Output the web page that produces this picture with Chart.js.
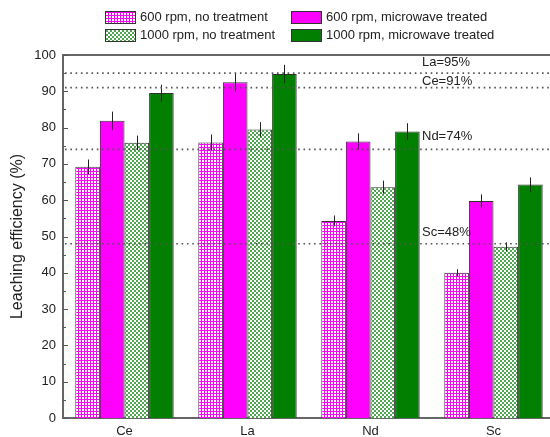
<!DOCTYPE html>
<html>
<head>
<meta charset="utf-8">
<script src="https://cdn.jsdelivr.net/npm/chart.js@4.4.1/dist/chart.umd.min.js"></script>
<style>
  html, body { margin: 0; padding: 0; overflow: hidden; background: #fff; }
  #wrap { width: 557px; height: 437px; }
</style>
</head>
<body>
<div id="wrap"><canvas id="chart"></canvas></div>
<script>
// Data
const elements = ["Ce", "La", "Nd", "Sc"];
const seriesNames = [
  "600 rpm, no treatment",
  "600 rpm, microwave treated",
  "1000 rpm, no treatment",
  "1000 rpm, microwave treated",
];
const rpm600Plain = [69.2, 75.9, 54.3, 40.0];
const rpm600Microwave = [81.9, 92.5, 76.2, 59.8];
const rpm1000Plain = [75.8, 79.5, 63.6, 47.2];
const rpm1000Microwave = [89.5, 94.8, 78.9, 64.3];
const err600Plain = [2.0, 2.2, 1.5, 1.0];
const err600Microwave = [2.5, 2.5, 2.2, 1.8];
const err1000Plain = [2.0, 2.0, 1.8, 1.2];
const err1000Microwave = [2.3, 2.5, 2.3, 2.0];
const refValues = [95, 91, 74, 48];
const refLabels = ["La=95%", "Ce=91%", "Nd=74%", "Sc=48%"];
const yTicks = [0, 10, 20, 30, 40, 50, 60, 70, 80, 90, 100];

const FONT = "'Liberation Sans', Arial, sans-serif";

// fill patterns
function makePattern(size, draw) {
  const c = document.createElement("canvas");
  c.width = size;
  c.height = size;
  const g = c.getContext("2d");
  draw(g);
  return g.createPattern(c, "repeat");
}
const ctx = document.getElementById("chart").getContext("2d");
const magentaGrid = makePattern(3, (g) => {
  g.fillStyle = "#ff00ff";
  g.fillRect(0, 0, 3, 3);
  g.fillStyle = "#ffffff";
  g.fillRect(1, 1, 2, 2);
});
const greenCheck = makePattern(4, (g) => {
  g.fillStyle = "#ffffff";
  g.fillRect(0, 0, 4, 4);
  g.fillStyle = "#4fa84f";
  g.fillRect(0, 0, 2, 2);
  g.fillRect(2, 2, 2, 2);
});

const errors = [err600Plain, err600Microwave, err1000Plain, err1000Microwave];

const errorBars = {
  id: "errorBars",
  afterDatasetsDraw(chart) {
    const y = chart.scales.y;
    const c = chart.ctx;
    c.save();
    c.strokeStyle = "#222";
    c.lineWidth = 1;
    chart.data.datasets.forEach((ds, i) => {
      const meta = chart.getDatasetMeta(i);
      meta.data.forEach((bar, j) => {
        const v = ds.data[j];
        const e = errors[i][j];
        const x = Math.round(bar.x) + 0.5;
        c.beginPath();
        c.moveTo(x, y.getPixelForValue(v - e));
        c.lineTo(x, y.getPixelForValue(v + e));
        c.stroke();
      });
    });
    c.restore();
  },
};

const refLabelDy = [-11, -6, -13, -11];
const refLines = {
  id: "refLines",
  afterDatasetsDraw(chart) {
    const { ctx: c, chartArea: a, scales } = chart;
    c.save();
    c.strokeStyle = "#555";
    c.lineWidth = 1.6;
    c.setLineDash([1.6, 3.7]);
    refValues.forEach((v) => {
      const yy = scales.y.getPixelForValue(v);
      c.beginPath();
      c.moveTo(a.left + 2, yy);
      c.lineTo(a.right, yy);
      c.stroke();
    });
    c.setLineDash([]);
    c.fillStyle = "#222";
    c.font = "13px " + FONT;
    c.textBaseline = "middle";
    c.textAlign = "left";
    const lx = scales.x.getPixelForValue(2.5) - 10;
    refValues.forEach((v, i) => {
      const yy = scales.y.getPixelForValue(v);
      c.fillText(refLabels[i], lx, yy + refLabelDy[i]);
    });
    c.restore();
  },
};

const frame = {
  id: "frame",
  afterDraw(chart) {
    const { ctx: c, chartArea: a, scales } = chart;
    c.save();
    c.strokeStyle = "#666";
    c.lineWidth = 2;
    c.beginPath();
    c.moveTo(a.left - 1, a.top);
    c.lineTo(a.right, a.top);
    c.lineTo(a.right, a.bottom);
    c.stroke();
    // inward ticks on the y axis, minor ones at the halves
    c.lineWidth = 1;
    c.strokeStyle = "#555";
    for (let v = 0; v <= 100; v += 5) {
      const yy = Math.round(scales.y.getPixelForValue(v)) + 0.5;
      const len = v % 10 === 0 ? 5 : 3;
      c.beginPath();
      c.moveTo(a.left, yy);
      c.lineTo(a.left + len, yy);
      c.stroke();
    }
    c.restore();
  },
};

const legendBox = {
  id: "legendBox",
  afterDraw(chart) {
    const c = chart.ctx;
    const cols = [105, 291];
    const rows = [17, 35];
    c.save();
    c.font = "13px " + FONT;
    c.textBaseline = "middle";
    chart.data.datasets.forEach((ds, k) => {
      const x = cols[k % 2];
      const y = rows[Math.floor(k / 2)];
      c.fillStyle = ds.backgroundColor;
      c.fillRect(x, y - 6, 30, 12);
      c.strokeStyle = "#333";
      c.lineWidth = 1;
      c.strokeRect(x + 0.5, y - 5.5, 30, 12);
      c.fillStyle = "#222";
      c.fillText(ds.label, x + 35, y);
    });
    c.restore();
  },
};

new Chart(ctx, {
  type: "bar",
  data: {
    labels: elements,
    datasets: [
      { label: seriesNames[0], data: rpm600Plain, backgroundColor: magentaGrid },
      { label: seriesNames[1], data: rpm600Microwave, backgroundColor: "#ff00ff" },
      { label: seriesNames[2], data: rpm1000Plain, backgroundColor: greenCheck },
      { label: seriesNames[3], data: rpm1000Microwave, backgroundColor: "#007f00" },
    ].map((d) => ({
      ...d,
      borderColor: "#333",
      borderWidth: 1,
      barPercentage: 1.0,
      categoryPercentage: 0.8,
    })),
  },
  options: {
    responsive: true,
    maintainAspectRatio: false,
    animation: false,
    layout: { padding: { top: 55, right: 2, left: 0, bottom: 0 } },
    plugins: {
      legend: { display: false },
      tooltip: { enabled: false },
    },
    scales: {
      x: {
        grid: { display: false, drawTicks: false },
        border: { display: true, color: "#666", width: 2 },
        ticks: { color: "#222", font: { family: FONT, size: 13 }, padding: 6 },
        afterFit(scale) { scale.height = 19; },
      },
      y: {
        min: 0,
        max: 100,
        afterBuildTicks(scale) { scale.ticks = yTicks.map((v) => ({ value: v })); },
        grid: { display: false, drawTicks: false },
        border: { display: true, color: "#666", width: 2 },
        ticks: { color: "#222", font: { family: FONT, size: 13 }, padding: 7 },
        title: {
          display: true,
          text: "Leaching efficiency (%)",
          color: "#222",
          font: { family: FONT, size: 16 },
          padding: { top: 8, bottom: 0 },
        },
        afterFit(scale) { scale.width = 63; },
      },
    },
  },
  plugins: [errorBars, refLines, frame, legendBox],
});
</script>
</body>
</html>
